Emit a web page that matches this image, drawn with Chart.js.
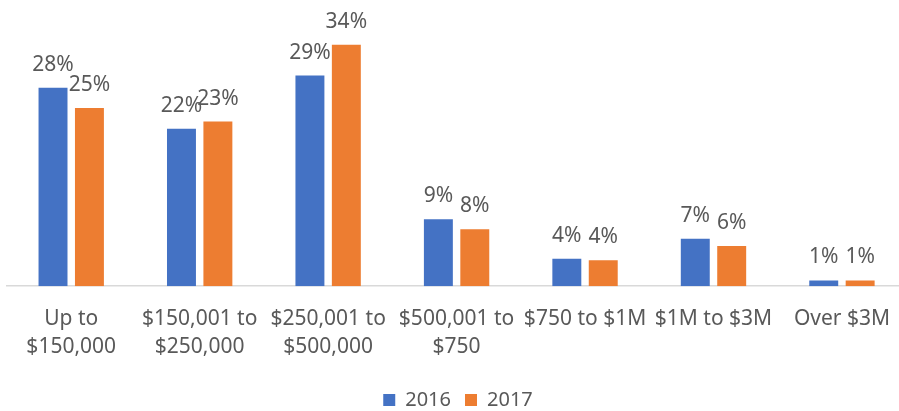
<!DOCTYPE html>
<html>
<head>
<meta charset="utf-8">
<script src="https://cdn.jsdelivr.net/npm/chart.js@4"></script>
<style>
    html, body { margin: 0; padding: 0; background: #ffffff; overflow: hidden; }
    #wrap { width: 909px; height: 411px; }
</style>
</head>
<body>
<div id="wrap"><canvas id="priceChart"></canvas></div>
<script>
// Price bands (two-line labels where the original wraps)
const categories = [
    ['Up to', '$150,000'],
    ['$150,001 to', '$250,000'],
    ['$250,001 to', '$500,000'],
    ['$500,001 to', '$750'],
    '$750 to $1M',
    '$1M to $3M',
    'Over $3M'
];
const seriesNames = ['2016', '2017'];
const values2016 = [27.6, 21.9, 29.3, 9.3, 3.8, 6.6, 0.8];
const values2017 = [24.8, 22.9, 33.6, 7.9, 3.6, 5.6, 0.8];

const textColor = '#595959';
const fontFamily = '"Noto Sans", "Open Sans", sans-serif';

// draw the % value above every bar
const barLabels = {
    id: 'barLabels',
    afterDatasetsDraw(chart) {
        const ctx = chart.ctx;
        ctx.save();
        ctx.font = '21px ' + fontFamily;
        ctx.fillStyle = textColor;
        ctx.textAlign = 'center';
        ctx.textBaseline = 'alphabetic';
        chart.data.datasets.forEach(function (ds, i) {
            chart.getDatasetMeta(i).data.forEach(function (bar, j) {
                ctx.fillText(Math.round(ds.data[j]) + '%', bar.x, bar.y - 17);
            });
        });
        ctx.restore();
    }
};

const ctx = document.getElementById('priceChart').getContext('2d');
const priceChart = new Chart(ctx, {
    type: 'bar',
    data: {
        labels: categories,
        datasets: [{
            label: seriesNames[0],
            data: values2016,
            backgroundColor: '#4472C4'
        }, {
            label: seriesNames[1],
            data: values2017,
            backgroundColor: '#ED7D31'
        }]
    },
    options: {
        responsive: true,
        maintainAspectRatio: false,
        animation: false,
        categoryPercentage: 0.567,
        barPercentage: 0.795,
        layout: { padding: { top: 13, left: 7, right: 0, bottom: -9 } },
        scales: {
            x: {
                grid: { display: false, drawTicks: false },
                border: { display: true, color: '#D9D9D9', width: 1.5 },
                ticks: {
                    color: textColor,
                    font: { family: fontFamily, size: 21, lineHeight: 1.33 },
                    padding: 19,
                    maxRotation: 0,
                    autoSkip: false
                },
                afterFit: function (scale) {
                    scale.height -= 4;
                }
            },
            y: {
                display: false,
                min: 0,
                max: 38
            }
        },
        plugins: {
            legend: {
                position: 'bottom',
                labels: {
                    color: textColor,
                    font: { family: fontFamily, size: 20 },
                    boxWidth: 12,
                    boxHeight: 12,
                    padding: 14
                }
            },
            tooltip: { enabled: false }
        }
    },
    plugins: [barLabels]
});
</script>
</body>
</html>
